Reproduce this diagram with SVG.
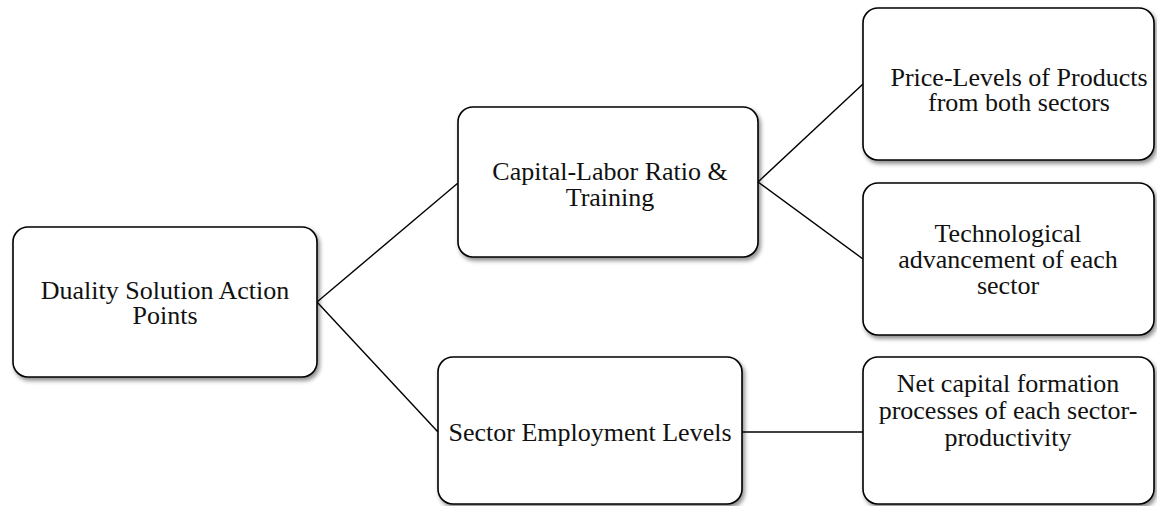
<svg xmlns="http://www.w3.org/2000/svg" width="1157" height="506" viewBox="0 0 1157 506">
<defs>
<filter id="sh" x="-10%" y="-10%" width="130%" height="130%">
<feDropShadow dx="2" dy="3" stdDeviation="2" flood-color="#000" flood-opacity="0.45"/>
</filter>
<style>
.box{fill:#fff;stroke:#000;stroke-width:1.6;filter:url(#sh)}
.t{font-family:"Liberation Serif","Times New Roman",serif;font-size:26px;fill:#111;text-anchor:middle}
.c{stroke:#000;stroke-width:1.4;fill:none}
</style>
</defs>
<rect width="1157" height="506" fill="#fff"/>
<g id="connectors">
<line class="c" x1="317" y1="302" x2="458" y2="183"/>
<line class="c" x1="317" y1="302" x2="438" y2="432"/>
<line class="c" x1="758" y1="182" x2="863" y2="84"/>
<line class="c" x1="758" y1="182" x2="863" y2="259"/>
<line class="c" x1="742" y1="432" x2="863" y2="432"/>
</g>
<g id="n1">
<rect class="box" x="13" y="227" width="304" height="150" rx="15"/>
<text class="t" x="165" y="299">Duality Solution Action</text>
<text class="t" x="165" y="324">Points</text>
</g>
<g id="n2">
<rect class="box" x="458" y="107" width="300" height="150" rx="15"/>
<text class="t" x="610" y="180">Capital-Labor Ratio &amp;</text>
<text class="t" x="610" y="206">Training</text>
</g>
<g id="n3">
<rect class="box" x="863" y="8" width="291" height="152" rx="15"/>
<text class="t" x="1019" y="86">Price-Levels of Products</text>
<text class="t" x="1019" y="111">from both sectors</text>
</g>
<g id="n4">
<rect class="box" x="863" y="183" width="291" height="152" rx="15"/>
<text class="t" x="1008" y="242">Technological</text>
<text class="t" x="1008" y="268">advancement of each</text>
<text class="t" x="1008" y="294">sector</text>
</g>
<g id="n5">
<rect class="box" x="438" y="357" width="304" height="147" rx="15"/>
<text class="t" x="590" y="441">Sector Employment Levels</text>
</g>
<g id="n6">
<rect class="box" x="863" y="357" width="291" height="147" rx="15"/>
<text class="t" x="1008" y="392">Net capital formation</text>
<text class="t" x="1008" y="419">processes of each sector-</text>
<text class="t" x="1008" y="446">productivity</text>
</g>
</svg>
